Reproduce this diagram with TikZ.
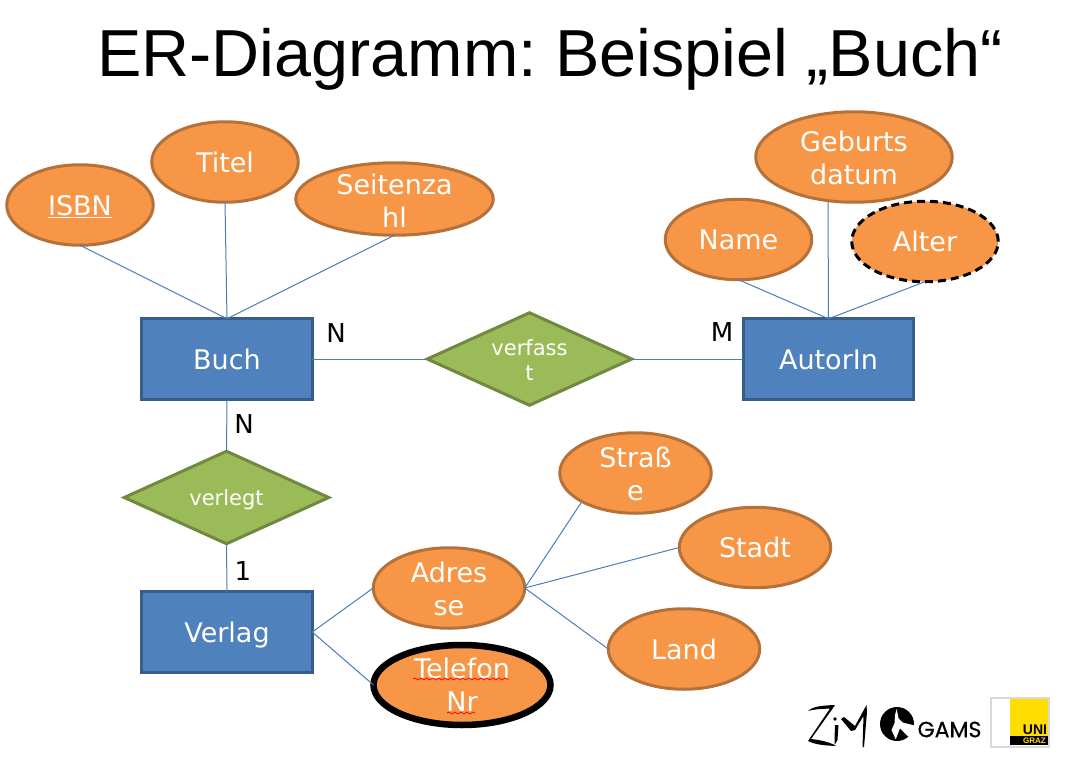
\documentclass[tikz,border=0pt]{standalone}
\usepackage{fontspec}
\setmainfont{DejaVu Sans}
\newfontfamily\titlefont{Liberation Sans}
\newfontfamily\gamsfont[FakeBold=0.5]{Poppins}
\usetikzlibrary{shapes.geometric, decorations.pathmorphing}

\definecolor{attrfill}{HTML}{F79646}
\definecolor{attrline}{HTML}{B5713A}
\definecolor{entfill}{HTML}{4F81BD}
\definecolor{entline}{HTML}{385D8A}
\definecolor{relfill}{HTML}{9BBB59}
\definecolor{relline}{HTML}{71893F}
\definecolor{linkline}{HTML}{4A7EBB}
\definecolor{unigelb}{HTML}{FFDD00}
\newcommand{\firstline}{\rule{0pt}{23pt}}

\begin{document}
\begin{tikzpicture}[x = 1pt, y = -1pt,
    attr/.style = {ellipse, draw = attrline, line width = 3pt, fill = attrfill, text = white, inner sep = 0pt, outer sep = 0pt, align = center, minimum width = 146.5pt, minimum height = 80.5pt, font = \fontsize{27}{33}\selectfont},
    entity/.style = {rectangle, draw = entline, line width = 3pt, fill = entfill, text = white, inner sep = 0pt, outer sep = 0pt, minimum width = 170.5pt, minimum height = 80.5pt, text height = 20pt, text depth = 0pt, font = \fontsize{27}{33}\selectfont},
    relation/.style = {diamond, draw = relline, line width = 3pt, fill = relfill, text = white, inner sep = 0pt, outer sep = 0pt, aspect = 2.2, align = center, minimum width = 204.5pt, minimum height = 92.5pt, font = \fontsize{21}{25}\selectfont},
    oneline/.style = {align = none, text height = 20pt, text depth = 0pt},
    card/.style = {text = black, inner sep = 0pt, font = \fontsize{26}{30}\selectfont},
    link/.style = {draw = linkline, line width = 1pt},
    squiggle/.style = {draw = red, line width = 0.8pt, decorate, decoration = {snake, amplitude = 1pt, segment length = 6pt}}]
  \useasboundingbox (0,0) rectangle (1066,760);
  \node[text = black, inner sep = 0pt, font = \titlefont\fontsize{66.5}{80}\selectfont] (title) at (550,59) {\frenchspacing ER-Diagramm: Beispiel „Buch“};

  % entities and relations
  \node[entity] (buch) at (227,359) {Buch};
  \node[entity] (autorin) at (828.5,359) {AutorIn};
  \node[entity] (verlag) at (227,632) {Verlag};
  \node[relation] (verfasst) at (529.5,359) {\rule{0pt}{18pt}verfass\\t};
  \node[relation, align = none, text height = 16pt, text depth = 0pt] (verlegt) at (226.5,497.5) {verlegt};

  % attributes
  \node[attr, oneline] (isbn) at (80,205) {\underline{ISBN}};
  \node[attr, oneline] (titel) at (225,162) {Titel};
  \node[attr, inner ysep = -6pt, minimum width = 197.5pt, minimum height = 72.5pt] (seitenzahl) at (394.5,199) {\firstline Seitenza\\hl};
  \node[attr, minimum width = 196.5pt, minimum height = 90.5pt] (geburtsdatum) at (854,157) {\firstline Geburts\\datum};
  \node[attr, oneline] (name) at (738.5,239.5) {Name};
  \node[attr, oneline, draw = black, dash pattern = on 8pt off 5pt] (alter) at (925,241.5) {Alter};
  \node[attr, minimum width = 151.5pt] (strasse) at (635.5,473) {\firstline Straß\\e};
  \node[attr, oneline, minimum width = 151.5pt] (stadt) at (755,547.5) {Stadt};
  \node[attr, oneline, minimum width = 151.5pt] (land) at (684,649) {Land};
  \node[attr, minimum width = 151.5pt] (adresse) at (449,588) {\firstline Adres\\se};
  \node[attr, draw = black, line width = 6.5pt, minimum width = 177pt, minimum height = 80pt] (telefon) at (462,685) {Telefon\\Nr};
  \path[squiggle] (413,679) -- (509,679);
  \path[squiggle] (447,713) -- (475,713);
  \coordinate (geburtsfuss) at (828,201.5);

  % connectors
  \path[link] (buch.north) edge (isbn.south)
              (buch.north) edge (titel.south)
              (buch.north) edge (seitenzahl.south)
              (autorin.north) edge (name.south)
              (autorin.north) edge (geburtsfuss)
              (autorin.north) edge (alter.south)
              (buch.east) edge (verfasst.west)
              (verfasst.east) edge (autorin.west)
              (buch.south) edge (verlegt.north)
              (verlegt.south) edge (verlag.north)
              (verlag.east) edge (adresse.west)
              (verlag.east) edge (telefon.west)
              (adresse.east) edge (strasse.south west)
              (adresse.east) edge (stadt.west)
              (adresse.east) edge (land.west);

  % cardinalities
  \node[card] (cardbuch) at (336,333) {N};
  \node[card] (cardautor) at (722,332) {M};
  \node[card] (cardverlegt) at (244,424) {N};
  \node[card] (cardverlag) at (243,571) {1};

  % logos
  \fill (808,711) .. controls (812,707) and (820,705.5) .. (835,705) -- (833,708) -- (811,739) .. controls (820,740) and (830,742) .. (836,746) .. controls (826,745.5) and (816,745) .. (808,741) -- (830,708.5) .. controls (822,709) and (814,709) .. cycle;
  \fill (835,719) circle (1.8pt);
  \fill (835,725) -- (838.5,725) -- (837.5,740) -- (834.5,745) -- (834.5,739) -- cycle;
  \fill (841,719) -- (844,717) -- (855,726) -- (866.5,705) -- (867,712) -- (864,747) -- (862.5,747) -- (863.5,716) -- (855,730) -- (851,731) -- cycle;
  \fill (897,724) circle (17pt);
  \fill[white] (896.7,709) -- (898.5,718.3) -- (902.5,722.5) -- (916.7,726) -- (916.7,733.3) -- (908.3,736.7) -- (900,728.3) -- (895.7,739.3) -- (891.5,730) -- (894.5,723.3) -- (895,715) -- cycle;
  \node[text = black, inner sep = 0pt, font = \gamsfont\fontsize{22}{24}\selectfont] (gams) at (949.5,729.5) {GAMS};
  \filldraw[draw = black!15, fill = white, line width = 2.5pt] (991.2,698.2) rectangle (1048.8,746.8);
  \fill[unigelb] (1010,699) rectangle (1048,736);
  \fill[black] (1010,736) rectangle (1048,745);
  \node[text = black, inner sep = 0pt, font = \titlefont\bfseries\fontsize{14}{15}\selectfont] (uni) at (1035,730) {UNI};
  \node[text = unigelb, inner sep = 0pt, font = \titlefont\bfseries\fontsize{8}{9}\selectfont] (graz) at (1034.5,740.5) {GRAZ};
\end{tikzpicture}
\end{document}
